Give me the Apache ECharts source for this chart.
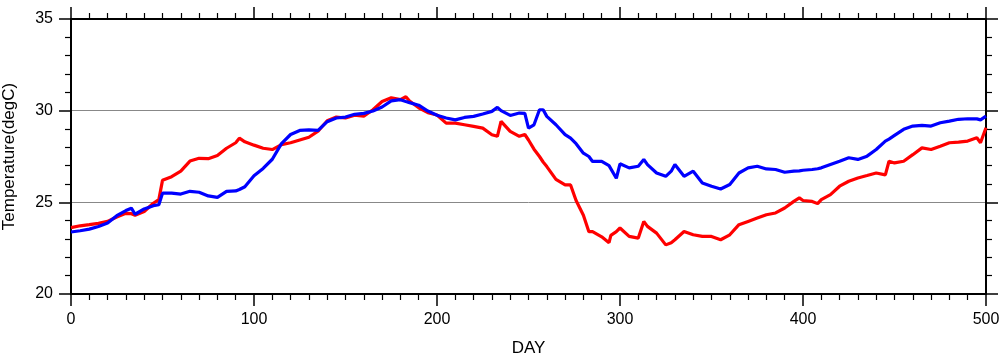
<!DOCTYPE html>
<html>
<head>
<meta charset="utf-8">
<script src="https://cdn.jsdelivr.net/npm/echarts@6/dist/echarts.min.js"></script>
<style>html,body{margin:0;padding:0;background:#fff}#c{width:1000px;height:360px}</style>
</head>
<body>
<div id="c"></div>
<script>
var days = [0,5,10,15,20,25,30,33,35,40,45,48,50,55,60,65,70,75,80,85,90,92,95,100,105,110,115,120,125,130,135,140,145,150,155,160,165,170,175,180,183,185,190,195,200,205,210,215,220,225,230,233,235,240,245,248,250,253,256,258,260,265,270,273,276,280,283,285,290,294,295,298,300,305,310,313,315,320,325,328,330,335,340,345,350,355,360,365,370,375,380,385,390,395,398,400,405,408,410,415,420,425,430,435,440,445,447,450,455,460,465,470,475,480,485,490,495,497,500];
var redSeries = [23.62,23.72,23.78,23.85,23.96,24.2,24.4,24.38,24.3,24.5,24.95,25.15,26.2,26.4,26.7,27.25,27.4,27.38,27.55,27.95,28.25,28.5,28.3,28.12,27.95,27.88,28.15,28.25,28.4,28.55,28.88,29.45,29.65,29.6,29.75,29.7,30.05,30.5,30.7,30.6,30.76,30.53,30.16,29.89,29.76,29.32,29.32,29.23,29.14,29.05,28.69,28.6,29.42,28.87,28.6,28.7,28.4,27.9,27.5,27.2,26.95,26.25,25.95,25.95,25.1,24.3,23.4,23.4,23.12,22.8,23.2,23.4,23.6,23.14,23.05,23.96,23.69,23.32,22.68,22.8,22.96,23.41,23.23,23.14,23.14,22.96,23.23,23.78,23.96,24.14,24.32,24.42,24.69,25.05,25.24,25.1,25.05,24.93,25.15,25.42,25.88,26.15,26.33,26.46,26.6,26.5,27.24,27.15,27.24,27.6,27.97,27.88,28.06,28.25,28.28,28.34,28.52,28.25,29.07];
var blueSeries = [23.38,23.45,23.54,23.68,23.87,24.27,24.55,24.68,24.35,24.64,24.82,24.87,25.5,25.5,25.45,25.6,25.55,25.35,25.27,25.6,25.62,25.7,25.85,26.45,26.85,27.35,28.2,28.7,28.92,28.95,28.92,29.4,29.6,29.65,29.8,29.85,29.98,30.2,30.53,30.6,30.5,30.44,30.3,29.98,29.75,29.6,29.5,29.63,29.69,29.82,29.96,30.18,30.0,29.74,29.87,29.85,29.05,29.23,30.05,30.05,29.69,29.23,28.69,28.5,28.2,27.68,27.5,27.23,27.23,27.0,26.95,26.31,27.1,26.88,26.97,27.34,27.06,26.6,26.42,26.7,27.06,26.42,26.7,26.06,25.88,25.73,25.97,26.6,26.88,26.97,26.82,26.79,26.64,26.7,26.72,26.75,26.79,26.83,26.88,27.06,27.24,27.43,27.34,27.52,27.88,28.34,28.45,28.65,28.98,29.16,29.2,29.16,29.34,29.43,29.53,29.56,29.55,29.5,29.7];
var xTicks = [0,100,200,300,400,500];
var yTicks = [20,25,30,35];

function pairs(vals){ return days.map(function(d,i){ return [d, vals[i]]; }); }

var chart = echarts.init(document.getElementById('c'), null, {renderer:'canvas'});
var font = 'Liberation Sans, Arial, Helvetica, sans-serif';
var axLine = {show:true, onZero:false, lineStyle:{color:'#000', width:2}};
function xAx(pos, labels){
  return {
    type:'value', position:pos, min:xTicks[0], max:xTicks[xTicks.length-1], interval:100,
    axisLine:axLine,
    axisTick:{show:true, inside:false, length:12, lineStyle:{color:'#000', width:1.5}},
    minorTick:{show:true, splitNumber:10, length:6, lineStyle:{color:'#000', width:1.2}},
    splitLine:{show:false},
    axisLabel:{show:labels, color:'#000', fontFamily:font, fontSize:16, margin:18},
    name: labels ? 'DAY' : '', nameLocation:'middle', nameGap:46,
    nameTextStyle:{color:'#000', fontFamily:font, fontSize:17}
  };
}
function yAx(pos, labels){
  return {
    type:'value', position:pos, min:yTicks[0], max:yTicks[yTicks.length-1], interval:5,
    axisLine:axLine,
    axisTick:{show:true, inside:false, length:12, lineStyle:{color:'#000', width:1.5}},
    minorTick:{show:true, splitNumber:5, length:6, lineStyle:{color:'#000', width:1.2}},
    splitLine:{show:labels, lineStyle:{color:'#888', width:1}},
    axisLabel:{show:labels, color:'#000', fontFamily:font, fontSize:16, margin:18},
    name: labels ? 'Temperature(degC)' : '', nameLocation:'middle', nameGap:53,
    nameTextStyle:{color:'#000', fontFamily:font, fontSize:17}
  };
}
chart.setOption({
  animation:false,
  backgroundColor:'#fff',
  grid:{left:71, right:14, top:19, bottom:66, containLabel:false, outerBoundsMode:'none'},
  xAxis:[xAx('bottom', true), xAx('top', false)],
  yAxis:[yAx('left', true), yAx('right', false)],
  series:[
    {type:'line', name:'red', data:pairs(redSeries), xAxisIndex:0, yAxisIndex:0, symbol:'none', lineStyle:{color:'#ff0000', width:3.2}, z:2},
    {type:'line', name:'blue', data:pairs(blueSeries), xAxisIndex:0, yAxisIndex:0, symbol:'none', lineStyle:{color:'#0000ff', width:3.2}, z:3}
  ]
});
</script>
</body>
</html>
